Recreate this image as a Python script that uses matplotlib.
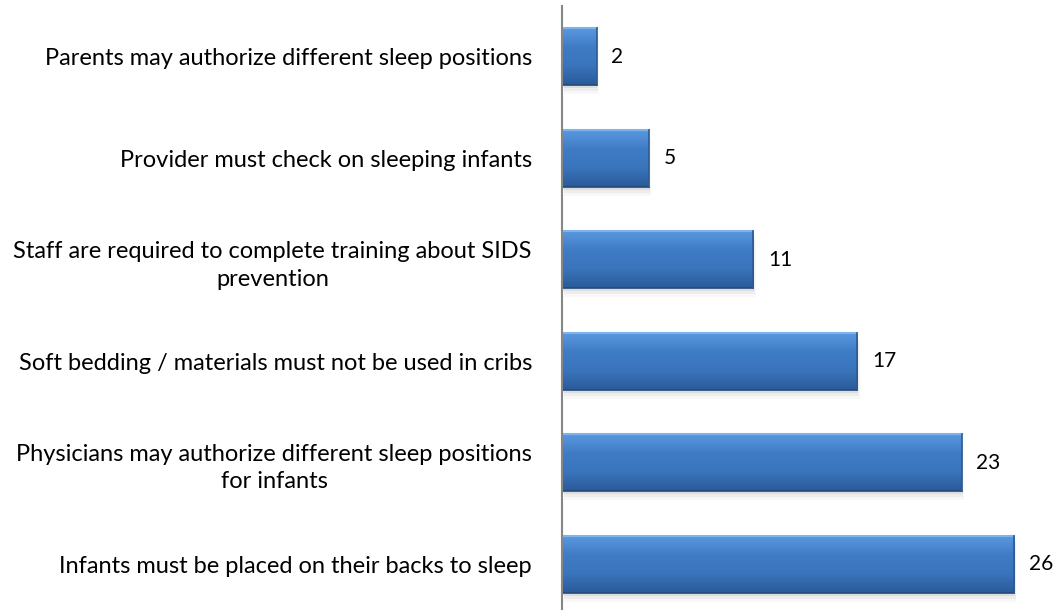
import numpy as np
import matplotlib.pyplot as plt
from matplotlib.colors import LinearSegmentedColormap
from matplotlib.patches import Rectangle

plt.rcParams['font.family'] = ['Lato', 'DejaVu Sans']

labels = [
    "Parents may authorize different sleep positions",
    "Provider must check on sleeping infants",
    "Staff are required to complete training about SIDS\nprevention",
    "Soft bedding / materials must not be used in cribs",
    "Physicians may authorize different sleep positions\nfor infants",
    "Infants must be placed on their backs to sleep",
]
counts = [2, 5, 11, 17, 23, 26]

fig = plt.figure(figsize=(10.62, 6.10), dpi=100)
ax = fig.add_axes([0.529, -0.008, 0.471, 0.998])

y = np.arange(len(counts))[::-1]
bar_h = 0.56

# vertical blue gradient used to fill each bar
grad = LinearSegmentedColormap.from_list(
    'bluebar', ['#2a5a98', '#3a74bb', '#3f7cc6', '#5a98de'])
g = np.linspace(0, 1, 256).reshape(-1, 1)

bars = ax.barh(y, counts, height=bar_h, color='#3d78c0', edgecolor='none', zorder=3)
for rect, val in zip(bars, counts):
    x0, y0 = rect.get_x(), rect.get_y()
    w, h = rect.get_width(), rect.get_height()
    # soft drop shadow
    for k, a in enumerate([0.10, 0.07, 0.04]):
        ax.add_patch(Rectangle((x0 + 0.05 * (k + 1), y0 - 0.03 * (k + 1)), w, h,
                               facecolor='#606060', alpha=a, edgecolor='none', zorder=2))
    im = ax.imshow(g, extent=(x0, x0 + w, y0, y0 + h), cmap=grad, aspect='auto',
                   origin='lower', zorder=4, interpolation='bicubic')
    im.set_clip_path(rect)
    # bevel highlight on top and dark rim at bottom / right
    ax.plot([x0, x0 + w], [y0 + h, y0 + h], color='#7db4ee', lw=1.5, zorder=5)
    ax.plot([x0, x0 + w], [y0, y0], color='#24497a', lw=1.2, zorder=5)
    ax.plot([x0 + w, x0 + w], [y0, y0 + h], color='#2c5a94', lw=1.2, zorder=5)
    ax.text(x0 + w + 0.85, rect.get_y() + h / 2, str(val), va='center', ha='left',
            fontsize=15, color='#000000', zorder=6)

ax.set_xlim(0, 28.77)
ax.set_ylim(-0.5, len(counts) - 0.5)
ax.set_yticks(y)
ax.set_yticklabels(labels, fontsize=17, multialignment='center', linespacing=1.4)
ax.tick_params(axis='y', length=0, pad=21.5)
ax.set_xticks([])
for side in ['top', 'right', 'bottom']:
    ax.spines[side].set_visible(False)
ax.spines['left'].set_color('#868686')
ax.spines['left'].set_linewidth(1.5)
ax.spines['left'].set_zorder(7)

fig.savefig('out.png', dpi=100, facecolor='white')
